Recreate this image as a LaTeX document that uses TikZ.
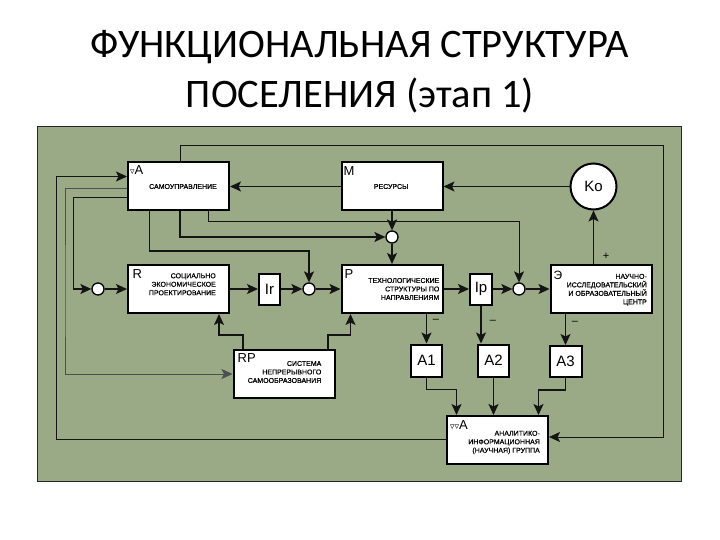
\documentclass[tikz,border=0pt]{standalone}
\usepackage{fontspec}
\setmainfont{Liberation Sans}
\newfontfamily\titlefont{Carlito}
\newfontfamily\symfont{DejaVu Sans}
\newfontfamily\smallfont[FakeBold=0.6]{Liberation Sans}
\usetikzlibrary{arrows.meta, positioning, calc}
\definecolor{panelgreen}{HTML}{9AAA87}
\definecolor{linedark}{HTML}{141414}
\newcommand{\fsz}[1]{\fontsize{#1}{#1}\selectfont}
\newcommand{\tri}{{\symfont\bfseries\fontsize{9}{9}\selectfont ▿}}

\tikzset{
  blockbox/.style={draw=black, line width=2pt, fill=white, minimum width=101pt,
                   minimum height=48pt, inner sep=0pt},
  smallbox/.style={draw=black, line width=2pt, fill=white, inner sep=0pt, font=\fsz{15}},
  junc/.style={circle, draw=black, line width=1.3pt, fill=white, minimum size=12pt, inner sep=0pt},
  tag/.style={font=\fsz{13}, inner sep=0pt, anchor=north west},
  boxtext/.style={font=\smallfont\fontsize{7}{8.5}\selectfont, align=right, inner sep=0pt, anchor=east},
  link/.style={draw=linedark, line width=1.4pt, ->},
  fine/.style={line width=0.8pt},
  sign/.style={font=\fsz{11}, inner sep=0pt},
}

\begin{document}
\begin{tikzpicture}[x=1pt, y=-1pt, >={Stealth[length=11pt, width=10pt, inset=2.5pt]}]
  \useasboundingbox (0,0) rectangle (720,540);
  % Title
  \node[font=\titlefont\fsz{40.5}, anchor=base, inner sep=0pt] (title1) at (360,58) {ФУНКЦИОНАЛЬНАЯ СТРУКТУРА};
  \node[font=\titlefont\fsz{40.5}, anchor=base, inner sep=0pt] (title2) at (360,108) {ПОСЕЛЕНИЯ (этап 1)};
  % Panel
  \draw[fill=panelgreen, draw=black!85, line width=0.8pt] (37.5,126) rectangle (681,481);

  % Blocks
  \node[blockbox] (A)  at (178.5,186.5) {};
  \node[blockbox] (M)  at (392,186.5) {};
  \node[blockbox] (R)  at (178.5,289) {};
  \node[blockbox] (P)  at (392,289) {};
  \node[blockbox] (E)  at (601,289) {};
  \node[blockbox] (RP) at (284,374) {};
  \node[blockbox] (AA) at (497.5,440) {};
  \node[smallbox, minimum width=21pt, minimum height=31pt] (Ir) at (269.5,289) {Ir};
  \node[smallbox, minimum width=22pt, minimum height=31pt] (Ip) at (481,289) {Ip};
  \node[smallbox, minimum width=31pt, minimum height=32pt] (A1) at (426.5,360.5) {A1};
  \node[smallbox, minimum width=31pt, minimum height=32pt] (A2) at (493.5,360.5) {A2};
  \node[smallbox, minimum width=32pt, minimum height=31pt] (A3) at (565.5,361.5) {A3};
  \node[circle, draw=black, line width=2pt, fill=white, minimum size=46pt, inner sep=0pt,
        font=\fsz{15}] (Ko) at (593.5,186.5) {Ko};
  % Junctions
  \node[junc] (j1) at (98,289) {};
  \node[junc] (j2) at (309,289) {};
  \node[junc] (j3) at (392,237) {};
  \node[junc] (j4) at (519,289) {};

  % Block labels
  \node[tag] at ([shift={(3,4)}]A.north west) {\tri A};
  \node[tag] at ([shift={(3,4.5)}]M.north west) {M};
  \node[tag] at ([shift={(5.5,5)}]R.north west) {R};
  \node[tag] at ([shift={(4,5)}]P.north west) {P};
  \node[tag, font=\fsz{12}] at ([shift={(4,7)}]E.north west) {Э};
  \node[tag] at ([shift={(5,4)}]RP.north west) {RP};
  \node[tag] at ([shift={(4,5)}]AA.north west) {\tri\tri A};
  \node[boxtext] at ([xshift=-13pt]A.east) {САМОУПРАВЛЕНИЕ};
  \node[boxtext] at ([xshift=-35pt]M.east) {РЕСУРСЫ};
  \node[boxtext] at ([shift={(-14,-4.7)}]R.east) {СОЦИАЛЬНО\\ЭКОНОМИЧЕСКОЕ\\ПРОЕКТИРОВАНИЕ};
  \node[boxtext] at ([xshift=-4pt]P.east) {ТЕХНОЛОГИЧЕСКИЕ\\СТРУКТУРЫ ПО\\НАПРАВЛЕНИЯМ};
  \node[boxtext] at ([shift={(-5.5,0.8)}]E.east) {НАУЧНО-\\ИССЛЕДОВАТЕЛЬСКИЙ\\И ОБРАЗОВАТЕЛЬНЫЙ\\ЦЕНТР};
  \node[boxtext] at ([shift={(-14,-2)}]RP.east) {СИСТЕМА\\НЕПРЕРЫВНОГО\\САМООБРАЗОВАНИЯ};
  \node[boxtext] at ([shift={(-9,2.5)}]AA.east) {АНАЛИТИКО-\\ИНФОРМАЦИОННАЯ\\(НАУЧНАЯ) ГРУППА};

  % Main chain
  \draw[link] (j1) -- (R);
  \draw[link] (R) -- (Ir);
  \draw[link] (Ir) -- (j2);
  \draw[link] (j2) -- (P);
  \draw[link] (P) -- (Ip);
  \draw[link] (Ip) -- (j4);
  \draw[link] (j4) -- (E);
  % Resources
  \draw[link] (M) -- (j3);
  \draw[link] (j3) -- (P);
  \draw[link] (Ko) -- (M);
  \draw[link] (Ko |- E.north) -- (Ko);
  \draw[link] (M) -- (A);
  % Outputs to A1..A3
  \draw[link] (A1 |- P.south) -- (A1);
  \draw[link] (Ip.south) -- (Ip.south |- A2.north);
  \draw[link] (A3 |- E.south) -- (A3);
  \draw[link] (A1.south) -- ++(0,12) -| ([xshift=-41pt]AA.north);
  \draw[link, fine] (A2) -- (A2 |- AA.north);
  \draw[link] (A3.south) -- ++(0,12) -| ([xshift=41pt]AA.north);
  % Feedback loops
  \draw[link, fine] ([xshift=1.5pt]A.north) |- (663,145.5) |- ([yshift=3pt]AA.east);
  \draw[link, fine] ([yshift=1pt]AA.west) -| (56.7,300) |- ([yshift=10pt]A.west);
  \draw[link, fine, draw=linedark!75] ([yshift=-2pt]A.west) -| (65,300) |- (RP.west);
  \draw[link] ([yshift=-11pt]A.west) -| (73.3,250) |- (j1);
  \draw[link] ([xshift=-29pt]A.south) |- (250,251) -| (j2);
  \draw[link] ([xshift=1.5pt]A.south) |- (j3);
  \draw[link, fine] ([xshift=30pt]A.south) |- (400,221.5) -| (j4);
  % Self-education
  \draw[link] ([xshift=-41pt]RP.north) |- (230,335) -| ([xshift=40.5pt]R.south);
  \draw[link] ([xshift=44pt]RP.north) |- (340,335) -| ([xshift=-41.5pt]P.south);

  % Signs
  \node[sign] at (606,256) {+};
  \node[sign] at (436,321) {–};
  \node[sign] at (493,322) {–};
  \node[sign] at (575,323) {–};
\end{tikzpicture}
\end{document}
